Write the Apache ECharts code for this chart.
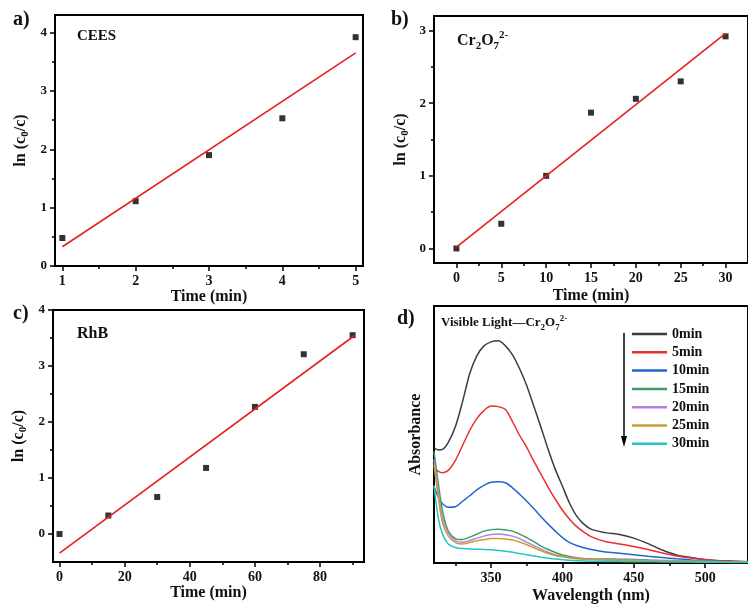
<!DOCTYPE html>
<html>
<head>
<meta charset="utf-8">
<script src="https://cdn.jsdelivr.net/npm/echarts@6/dist/echarts.min.js"></script>
<style>
  html, body { margin: 0; padding: 0; background: #fff; }
  #main { width: 748px; height: 605px; }
</style>
</head>
<body>
<div id="main"></div>
<script>
const FONT = "'Liberation Serif', 'Times New Roman', serif";

// a) CEES
const timeA = [1, 2, 3, 4, 5];
const lnA = [0.48, 1.11, 1.90, 2.53, 3.92];
const fitXA = [1, 5];
const fitYA = [0.33, 3.65];

// b) Cr2O7 2-
const timeB = [0, 5, 10, 15, 20, 25, 30];
const lnB = [0.0, 0.34, 1.0, 1.87, 2.06, 2.30, 2.92];
const fitXB = [0, 30];
const fitYB = [0.02, 2.96];

// c) RhB
const timeC = [0, 15, 30, 45, 60, 75, 90];
const lnC = [0.0, 0.33, 0.66, 1.18, 2.27, 3.21, 3.55];
const fitXC = [0, 90.5];
const fitYC = [-0.34, 3.54];

// d) spectra
const wavelength = [310, 313, 316, 320, 325, 330, 335, 340, 345, 350, 355, 360, 365, 370, 375, 380, 385, 390, 395, 400, 405, 410, 415, 420, 430, 440, 450, 460, 470, 480, 490, 500, 510, 520, 530];
const abs0 = [116, 113.5, 114, 121, 137, 162, 190, 208, 218, 222, 223, 218, 209, 195, 178, 157, 136, 114, 94, 77, 60, 47, 39, 34, 30.5, 28.5, 25, 19.5, 13, 8, 5.5, 3.5, 2.3, 1.8, 1.2];
const abs5 = [96, 92, 90.7, 93, 103, 118, 133, 145, 153, 157.5, 157, 154, 142, 128, 116, 102, 89, 76, 64, 53, 44, 36.5, 31, 26.5, 21.5, 19, 16.5, 13.5, 10, 7, 5, 3.3, 2.3, 1.8, 1.2];
const abs10 = [77, 66, 59.5, 56, 56.5, 62, 67.5, 73.5, 78, 81, 81.5, 80.5, 75.5, 69, 62, 54.5, 46.5, 39, 32, 25.5, 20.5, 17.5, 15.3, 13.5, 11, 9.8, 8.3, 6.8, 5.5, 4.2, 3, 2.3, 1.8, 1.3, 1];
const abs15 = [112, 80, 52, 32, 24.5, 23.5, 26, 29, 32, 33.5, 34, 33.3, 32, 29, 25.5, 21.5, 17, 13.5, 10.5, 8, 6.5, 5.3, 4.6, 4.3, 4, 3.8, 3.5, 3, 2.6, 2.3, 2, 1.8, 1.5, 1.2, 1];
const abs20 = [104, 72, 45, 30, 22.5, 20.8, 22.5, 25, 27, 28.5, 29, 28.3, 27, 24.5, 21, 17.5, 14, 10.8, 8.3, 6.8, 5.6, 4.8, 4.2, 3.8, 3.3, 3, 2.8, 2.5, 2.2, 2, 1.8, 1.5, 1.3, 1.1, 0.9];
const abs25 = [99, 66, 40, 27, 20.5, 19, 20.5, 22.3, 23.5, 24.5, 24.7, 24.2, 23, 21, 18.3, 15.3, 12.3, 9.6, 7.6, 6.2, 5.1, 4.3, 3.8, 3.4, 3, 2.7, 2.5, 2.2, 2, 1.8, 1.6, 1.4, 1.2, 1, 0.8];
const abs30 = [78, 45, 29, 19, 15.5, 14.5, 14, 13.8, 13.6, 13.3, 12.6, 11.7, 10.7, 9.5, 8.3, 7, 5.9, 4.8, 3.9, 3.2, 2.7, 2.3, 2, 1.8, 1.6, 1.4, 1.3, 1.2, 1.1, 1, 0.9, 0.8, 0.7, 0.6, 0.5];
const specNames = ['0min', '5min', '10min', '15min', '20min', '25min', '30min'];
const specData = [abs0, abs5, abs10, abs15, abs20, abs25, abs30];
const specColors = ['#3c3c3c', '#e8312f', '#2266cc', '#3a9d62', '#b67fe6', '#c9a02e', '#22c6c6'];

// tick values
const xMajorA = [1, 2, 3, 4, 5], xMinorA = [1.5, 2.5, 3.5, 4.5];
const yMajorA = [0, 1, 2, 3, 4], yMinorA = [0.5, 1.5, 2.5, 3.5];
const xMajorB = [0, 5, 10, 15, 20, 25, 30], xMinorB = [2.5, 7.5, 12.5, 17.5, 22.5, 27.5];
const yMajorB = [0, 1, 2, 3], yMinorB = [0.5, 1.5, 2.5];
const xMajorC = [0, 20, 40, 60, 80], xMinorC = [10, 30, 50, 70, 90];
const yMajorC = [0, 1, 2, 3, 4], yMinorC = [0.5, 1.5, 2.5, 3.5];
const xMajorD = [350, 400, 450, 500], xMinorD = [325, 375, 425, 475];

const xAxes = [];
const yAxes = [];

const lnName = 'ln (c{s|0}/c)';
const nameStyle = {
  fontFamily: FONT, fontWeight: 'bold', fontSize: 16, color: '#111',
  rich: {
    s: { fontFamily: FONT, fontWeight: 'bold', fontSize: 11, color: '#111', verticalAlign: 'bottom', lineHeight: 20 }
  }
};

function addAxis(list, dim, grid, s) {
  const base = {
    type: 'value', gridIndex: grid, min: s.min, max: s.max,
    position: dim === 'x' ? 'bottom' : 'left',
    splitLine: { show: false }
  };
  const main = Object.assign({}, base, {
    axisLine: { show: true, onZero: false, lineStyle: { color: '#000', width: 2 } },
    axisTick: { show: !!s.majors, length: 5, customValues: s.majors, lineStyle: { color: '#000', width: 1.5 } },
    axisLabel: {
      show: !!s.majors, customValues: s.majors, margin: 8,
      fontFamily: FONT, fontWeight: 'bold', fontSize: s.labelSize, color: '#111'
    },
    name: s.name, nameLocation: 'middle', nameGap: s.nameGap,
    nameTextStyle: nameStyle
  });
  list.push(main);
  const idx = list.length - 1;
  if (s.minors) {
    list.push(Object.assign({}, base, {
      axisLine: { show: false, onZero: false },
      axisTick: { show: true, length: 3, customValues: s.minors, lineStyle: { color: '#000', width: 1.5 } },
      axisLabel: { show: false }
    }));
  }
  return idx;
}

const grids = [
  { left: 55, top: 15, width: 308, height: 251 },
  { left: 434, top: 16, width: 322, height: 247 },
  { left: 53, top: 310, width: 311, height: 252 },
  { left: 434, top: 306, width: 326, height: 258 }
].map(g => Object.assign({ show: true, borderColor: '#000', borderWidth: 2, backgroundColor: 'transparent' }, g));

const xa = addAxis(xAxes, 'x', 0, { min: 0.9, max: 5.1, majors: xMajorA, minors: xMinorA, labelSize: 14, name: 'Time (min)', nameGap: 22 });
const ya = addAxis(yAxes, 'y', 0, { min: 0, max: 4.3, majors: yMajorA, minors: yMinorA, labelSize: 13, name: lnName, nameGap: 24 });
const xb = addAxis(xAxes, 'x', 1, { min: -2.5, max: 32.5, majors: xMajorB, minors: xMinorB, labelSize: 14, name: 'Time (min)', nameGap: 25 });
const yb = addAxis(yAxes, 'y', 1, { min: -0.2, max: 3.2, majors: yMajorB, minors: yMinorB, labelSize: 13, name: lnName, nameGap: 23 });
const xc = addAxis(xAxes, 'x', 2, { min: -2, max: 93.5, majors: xMajorC, minors: xMinorC, labelSize: 14, name: 'Time (min)', nameGap: 22 });
const yc = addAxis(yAxes, 'y', 2, { min: -0.5, max: 4, majors: yMajorC, minors: yMinorC, labelSize: 13, name: lnName, nameGap: 24 });
const xd = addAxis(xAxes, 'x', 3, { min: 310, max: 530, majors: xMajorD, minors: xMinorD, labelSize: 14, name: 'Wavelength (nm)', nameGap: 25 });
const yd = addAxis(yAxes, 'y', 3, { min: 0, max: 258, majors: null, minors: null, labelSize: 13, name: 'Absorbance', nameGap: 10 });

function pairs(xs, ys) { return xs.map((x, i) => [x, ys[i]]); }

function kineticSeries(xi, yi, xs, ys, fx, fy) {
  return [
    {
      type: 'scatter', xAxisIndex: xi, yAxisIndex: yi, data: pairs(xs, ys),
      symbol: 'rect', symbolSize: 6, itemStyle: { color: '#000' }, z: 2
    },
    {
      type: 'line', xAxisIndex: xi, yAxisIndex: yi, data: pairs(fx, fy),
      showSymbol: false, lineStyle: { color: '#e62020', width: 1.6 }, z: 3
    }
  ];
}

const series = [].concat(
  kineticSeries(xa, ya, timeA, lnA, fitXA, fitYA),
  kineticSeries(xb, yb, timeB, lnB, fitXB, fitYB),
  kineticSeries(xc, yc, timeC, lnC, fitXC, fitYC),
  specNames.map((n, k) => ({
    name: n, type: 'line', xAxisIndex: xd, yAxisIndex: yd,
    data: pairs(wavelength, specData[k]),
    showSymbol: false, smooth: 0.3,
    itemStyle: { color: specColors[k] },
    lineStyle: { color: specColors[k], width: 1.5 }
  }))
);

const bold = (size) => ({ fontFamily: FONT, fontWeight: 'bold', fontSize: size, color: '#111' });

const titles = [
  { text: 'a)', left: 13, top: 10, textStyle: bold(20) },
  { text: 'b)', left: 391, top: 10, textStyle: bold(20) },
  { text: 'c)', left: 13, top: 304, textStyle: bold(20) },
  { text: 'd)', left: 397, top: 309, textStyle: bold(20) },
  { text: 'CEES', left: 77, top: 29, textStyle: bold(15) },
  { text: 'RhB', left: 77, top: 326, textStyle: bold(16) },
  {
    text: '{n|Cr}{s|2}{n|O}{s|7}{p|2-}', left: 457, top: 30,
    textStyle: {
      rich: {
        n: { fontFamily: FONT, fontSize: 16, color: '#111', lineHeight: 22 },
        s: { fontFamily: FONT, fontSize: 11, color: '#111', verticalAlign: 'bottom', lineHeight: 11 },
        p: { fontFamily: FONT, fontSize: 11, color: '#111', verticalAlign: 'top', lineHeight: 11 }
      }
    }
  },
  {
    text: '{n|Visible Light\u2014Cr}{s|2}{n|O}{s|7}{p|2-}', left: 441, top: 314,
    textStyle: {
      rich: {
        n: { fontFamily: FONT, fontWeight: 'bold', fontSize: 13, color: '#111', lineHeight: 18 },
        s: { fontFamily: FONT, fontWeight: 'bold', fontSize: 9, color: '#111', verticalAlign: 'bottom', lineHeight: 9 },
        p: { fontFamily: FONT, fontWeight: 'bold', fontSize: 9, color: '#111', verticalAlign: 'top', lineHeight: 9 }
      }
    }
  }
].map(t => Object.assign({ padding: 0 }, t));

const chart = echarts.init(document.getElementById('main'), null, { renderer: 'canvas' });

chart.setOption({
  backgroundColor: '#fff',
  animation: false,
  title: titles,
  grid: grids,
  xAxis: xAxes,
  yAxis: yAxes,
  legend: {
    data: specNames, orient: 'vertical', left: 632, top: 327, padding: 0,
    icon: 'rect', itemWidth: 35, itemHeight: 2.5, itemGap: 4.3,
    textStyle: { fontFamily: FONT, fontWeight: 'bold', fontSize: 14, color: '#111', lineHeight: 14 }
  },
  graphic: [
    { type: 'line', shape: { x1: 624, y1: 333, x2: 624, y2: 440 }, style: { stroke: '#000', lineWidth: 1.5 } },
    { type: 'polygon', shape: { points: [[621, 436], [627, 436], [624, 447]] }, style: { fill: '#000' } }
  ],
  series: series
});
</script>
</body>
</html>
